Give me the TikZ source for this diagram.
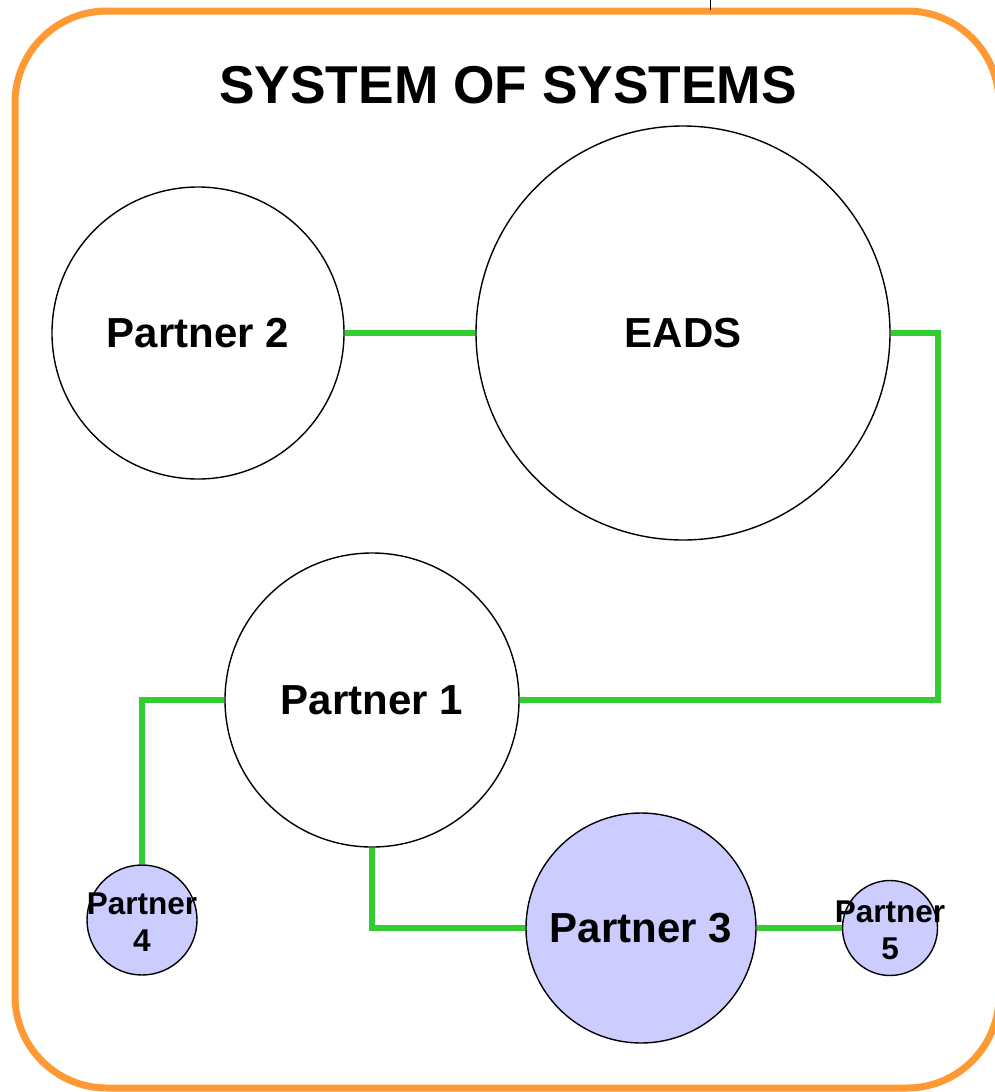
\documentclass[tikz,border=0pt]{standalone}
\usepackage{fontspec}
\setmainfont{Liberation Sans}
\definecolor{frameorange}{HTML}{FF9933}
\definecolor{linkgreen}{HTML}{33CC33}
\definecolor{lavender}{HTML}{CCCCFF}
\begin{document}
\begin{tikzpicture}[x=1pt,y=-1pt,
  sys/.style={circle,draw=black,line width=1.4pt,inner sep=0pt,font=\bfseries\fontsize{42}{42}\selectfont},
  bigsys/.style={sys,fill=white},
  subsys/.style={sys,fill=lavender},
  tinysys/.style={sys,fill=lavender},
  tinylabel/.style={font=\bfseries\fontsize{31.5}{37}\selectfont,align=center},
  link/.style={draw=linkgreen,line width=6pt,line join=miter},
  frame/.style={draw=frameorange,line width=7pt,rounded corners=92pt}
]
\useasboundingbox (0,0) rectangle (995,1092);
% frame
\draw[frame] (15,11) rectangle (999,1088);
\coordinate (tickA) at (710,0);
\coordinate (tickB) at (710,10);
\draw[line width=0.9pt] (tickA) -- (tickB);
\node[font=\bfseries\fontsize{53.3}{53}\selectfont] (title) at (508,85) {SYSTEM OF SYSTEMS};
% systems
\node[bigsys,minimum size=292pt] (p2) at (198,333) {Partner 2};
\node[bigsys,minimum size=414pt] (eads) at (683,333) {EADS};
\node[bigsys,minimum size=294pt] (p1) at (372,700) {Partner 1};
\node[subsys,minimum size=230pt] (p3) at (641,928) {Partner 3};
\node[tinysys,minimum size=110pt] (p4) at (142,920) {};
\node[tinysys,minimum size=95pt] (p5) at (890,928) {};
\node[tinylabel] (p4t) at (142,922) {Partner\\4};
\node[tinylabel] (p5t) at (890,930) {Partner\\5};
% links
\draw[link] (p2.east) -- (eads.west);
\draw[link] (eads.east) -- ++(47,0) |- (p1.east);
\draw[link] (p1.west) -| (p4.north);
\draw[link] (p1.south) |- (p3.west);
\draw[link] (p3.east) -- (p5.west);
\end{tikzpicture}
\end{document}
